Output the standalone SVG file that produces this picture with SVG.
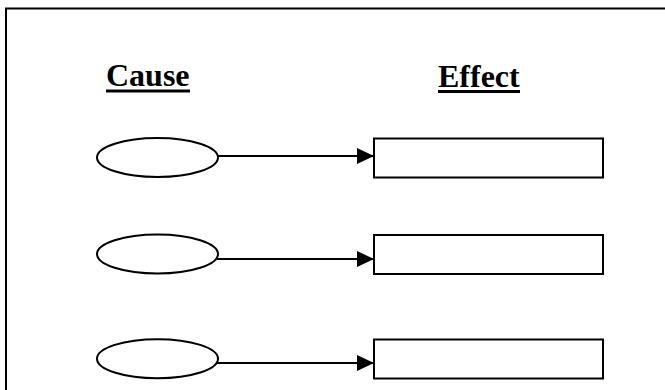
<svg xmlns="http://www.w3.org/2000/svg" width="665" height="390" viewBox="0 0 665 390">
<style>
.shape{fill:#fff;stroke:#000;stroke-width:2}
.conn{stroke:#000;stroke-width:2;fill:none}
.title{font-family:"Liberation Serif","Times New Roman",serif;font-weight:bold;font-size:32px;fill:#000}
.ul{stroke:#000;stroke-width:3}
</style>
<defs>
<marker id="arr" markerUnits="userSpaceOnUse" markerWidth="18" markerHeight="16" refX="17" refY="8" orient="auto">
<path d="M0,0 L17,8 L0,16 Z" fill="#000"/>
</marker>
</defs>
<rect x="0" y="0" width="665" height="390" fill="#fff"/>
<rect x="6" y="8.5" width="670" height="400" fill="none" stroke="#000" stroke-width="2"/>
<g id="cause-title">
<text class="title" x="106" y="86">Cause</text>
<line class="ul" x1="106" y1="91" x2="190" y2="91"/>
</g>
<g id="effect-title">
<text class="title" x="438" y="86.5">Effect</text>
<line class="ul" x1="438" y1="91.5" x2="520" y2="91.5"/>
</g>
<g id="cause1"><ellipse class="shape" cx="157.5" cy="157.5" rx="60.5" ry="19.5"/></g>
<g id="cause2"><ellipse class="shape" cx="157.5" cy="254" rx="60.5" ry="19.5"/></g>
<g id="cause3"><ellipse class="shape" cx="157.5" cy="358.7" rx="60.5" ry="19.5"/></g>
<g id="effect1"><rect class="shape" x="374" y="138.5" width="229" height="39"/></g>
<g id="effect2"><rect class="shape" x="374" y="235" width="229" height="39"/></g>
<g id="effect3"><rect class="shape" x="374" y="339.5" width="229" height="39"/></g>
<g id="connectors">
<line class="conn" x1="217" y1="156" x2="374" y2="156" marker-end="url(#arr)"/>
<line class="conn" x1="217" y1="259" x2="374" y2="259" marker-end="url(#arr)"/>
<line class="conn" x1="217" y1="363" x2="374" y2="363" marker-end="url(#arr)"/>
</g>
</svg>
